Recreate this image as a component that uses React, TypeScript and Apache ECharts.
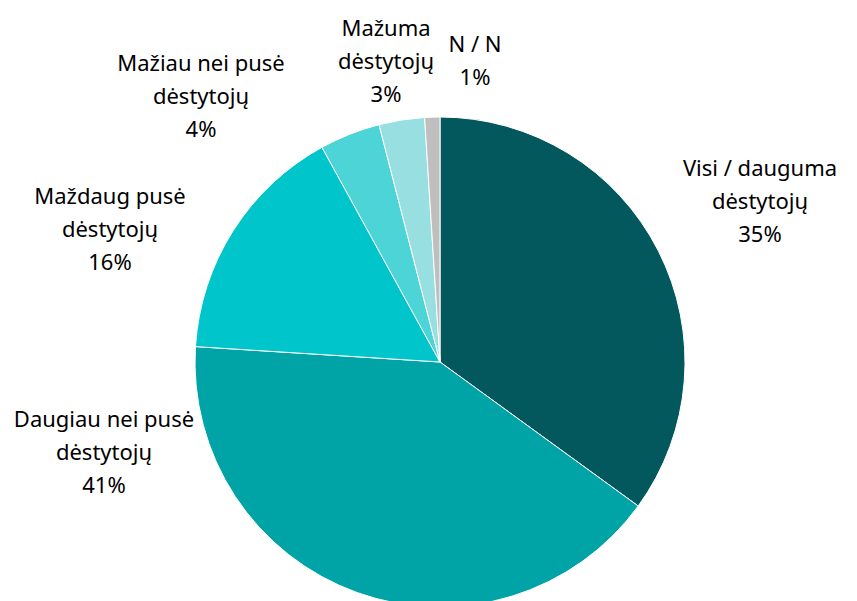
import React, { useEffect, useRef } from "react";
import * as echarts from "echarts";

const categories = [
  "Visi / dauguma\ndėstytojų",
  "Daugiau nei pusė\ndėstytojų",
  "Maždaug pusė\ndėstytojų",
  "Mažiau nei pusė\ndėstytojų",
  "Mažuma\ndėstytojų",
  "N / N",
];
const values = [35, 41, 16, 4, 3, 1];
const colors = ["#02585C", "#00A4A6", "#00C5CA", "#4DD4D6", "#97DFE0", "#BFBFBF"];
const labelCenters: [number, number][] = [
  [760, 200],
  [104, 451],
  [110, 228],
  [201, 95],
  [386, 60],
  [475, 59],
];

export default function App() {
  const ref = useRef<HTMLDivElement>(null);
  useEffect(() => {
    if (!ref.current) return;
    const chart = echarts.init(ref.current, null, { renderer: "svg" });
    chart.setOption({
      animation: false,
      backgroundColor: "#ffffff",
      series: [
        {
          type: "pie",
          center: [440, 362],
          radius: [0, 245],
          startAngle: 90,
          clockwise: true,
          data: categories.map((name, i) => ({
            name,
            value: values[i],
            itemStyle: { color: colors[i] },
          })),
          itemStyle: { borderColor: "#ffffff", borderWidth: 1 },
          label: {
            show: true,
            position: "outside",
            formatter: "{b}\n{c}%",
            fontFamily: "'Noto Sans', sans-serif",
            fontSize: 22,
            lineHeight: 33,
            color: "#000000",
            align: "center",
            overflow: "none",
            width: 260,
          },
          labelLine: { show: false },
          labelLayout: (params: any) => {
            const p = labelCenters[params.dataIndex];
            return { x: p[0], y: p[1], align: "center", verticalAlign: "middle" };
          },
        },
      ],
    });
    return () => chart.dispose();
  }, []);
  return (
    <div
      ref={ref}
      style={{ position: "fixed", left: 0, top: 0, width: 857, height: 601 }}
    />
  );
}
